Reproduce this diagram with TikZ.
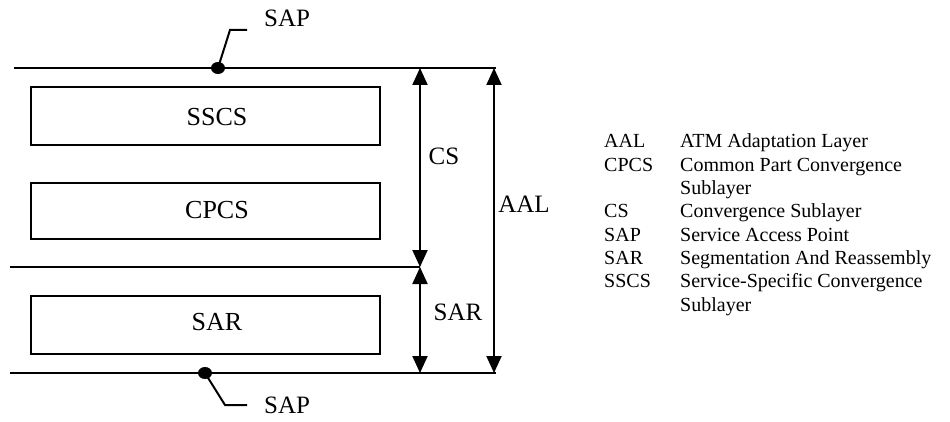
\documentclass[tikz,border=0pt]{standalone}
\usepackage{fontspec}
\setmainfont{Liberation Serif}
\usetikzlibrary{arrows.meta}
\begin{document}
\begin{tikzpicture}[x=1pt,y=-1pt,
  lyr/.style={draw,line width=2.2pt},
  boxlbl/.style={font=\fontsize{26}{30}\selectfont,inner sep=0pt},
  dimlbl/.style={font=\fontsize{25}{30}\selectfont,inner sep=0pt},
  abbr/.style={font=\fontsize{20}{24}\selectfont,anchor=base west,inner sep=0pt},
  dimarrow/.style={line width=2pt,{Triangle[length=17pt,width=15pt]}-{Triangle[length=17pt,width=15pt]}},
  dot/.style={fill=black,draw=none}]
\useasboundingbox (0,0) rectangle (950,422);
% layer lines
\coordinate (tl) at (14,68);
\coordinate (tr) at (496,68);
\coordinate (ml) at (10,267);
\coordinate (mr) at (420,267);
\coordinate (bl) at (10,373);
\coordinate (br) at (496,373);
\draw[line width=2.2pt] (tl) -- (tr);
\draw[line width=2.2pt] (ml) -- (mr);
\draw[line width=2.2pt] (bl) -- (br);
% boxes
\draw[lyr] (31,87) rectangle (380,145);
\node[boxlbl] (sscs) at (217,117) {SSCS};
\draw[lyr] (31,183) rectangle (380,239);
\node[boxlbl] (cpcs) at (217,210) {CPCS};
\draw[lyr] (31,296) rectangle (380,354);
\node[boxlbl] (sar) at (217,322) {SAR};
% dimension arrows
\coordinate (cst) at (420,68);
\coordinate (csb) at (420,267);
\coordinate (sarb) at (420,373);
\coordinate (aalt) at (494,68);
\coordinate (aalb) at (494,373);
\draw[dimarrow] (cst) -- (csb);
\draw[dimarrow] (csb) -- (sarb);
\draw[dimarrow] (aalt) -- (aalb);
\node[dimlbl] (cs) at (444,156) {CS};
\node[dimlbl] (sarl) at (458,312) {SAR};
\node[dimlbl] (aal) at (524,204) {AAL};
% SAP points
\fill[dot] (218,68) ellipse (7 and 6);
\coordinate (sap1) at (218,68);
\node[dimlbl,anchor=west] (saptop) at (264,18) {SAP};
\draw[line width=2pt] (sap1) -- (230,30) -- (247,30);
\fill[dot] (205,373) ellipse (7 and 6);
\coordinate (sap2) at (205,373);
\node[dimlbl,anchor=west] (sapbot) at (264,405) {SAP};
\draw[line width=2pt] (sap2) -- (225,405) -- (247,405);
% legend
\foreach \i/\a/\d in {0/AAL/ATM Adaptation Layer,
  1/CPCS/Common Part Convergence,
  2//Sublayer,
  3/CS/Convergence Sublayer,
  4/SAP/Service Access Point,
  5/SAR/Segmentation And Reassembly,
  6/SSCS/Service-Specific Convergence,
  7//Sublayer}{
  \node[abbr] (a\i) at (604,148+23.33*\i) {\a};
  \node[abbr] (d\i) at (680,148+23.33*\i) {\d};
}
\end{tikzpicture}
\end{document}
